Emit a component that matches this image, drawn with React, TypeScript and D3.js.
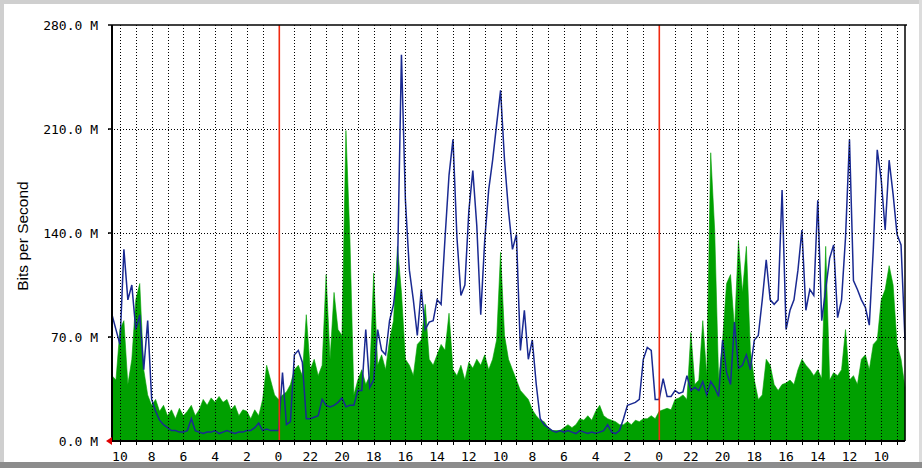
import React from 'react';
import * as d3 from 'd3';

// Incoming traffic (green area), Mbit/s, one value every 15 minutes from the left edge (newest) to the right edge
const inValues: number[] = [
  44, 41, 75, 81, 38, 55, 95, 106, 48, 31,
  24, 28, 20, 24, 17, 21, 15, 22, 17, 20,
  24, 17, 21, 28, 24, 29, 26, 30, 26, 28,
  21, 24, 17, 21, 20, 15, 21, 17, 28, 51,
  41, 31, 28, 31, 33, 38, 48, 51, 44, 85,
  48, 55, 44, 51, 112, 55, 100, 75, 71, 209,
  137, 31, 41, 48, 38, 44, 113, 51, 58, 48,
  68, 81, 131, 100, 55, 51, 44, 65, 68, 92,
  55, 51, 58, 65, 61, 86, 48, 44, 51, 41,
  53, 49, 55, 51, 58, 48, 55, 68, 127, 71,
  55, 48, 41, 34, 31, 28, 21, 17, 14, 13,
  9, 7, 7, 7, 9, 11, 9, 11, 15, 14,
  17, 14, 20, 24, 17, 15, 14, 13, 11, 11,
  13, 11, 14, 13, 15, 15, 17, 15, 20, 21,
  22, 21, 28, 29, 31, 28, 73, 38, 41, 81,
  44, 194, 142, 41, 68, 106, 112, 75, 135, 100,
  131, 61, 41, 28, 31, 55, 51, 38, 34, 38,
  39, 41, 38, 48, 55, 51, 48, 44, 48, 42,
  131, 41, 46, 44, 48, 75, 41, 44, 38, 55,
  58, 48, 65, 68, 95, 102, 118, 105, 65, 55,
  36,
];

// Outgoing traffic (blue line), Mbit/s, same sampling
const outValues: number[] = [
  85, 75, 65, 129, 95, 105, 75, 85, 48, 81,
  28, 20, 14, 11, 9, 7, 7, 6, 6, 7,
  15, 7, 6, 5, 6, 6, 7, 5, 6, 7,
  6, 5, 6, 6, 7, 7, 9, 12, 7, 8,
  7, 7, 7, 46, 11, 13, 58, 61, 53, 15,
  15, 16, 17, 28, 24, 23, 24, 26, 29, 23,
  24, 24, 34, 34, 75, 36, 41, 75, 61, 58,
  81, 92, 115, 260, 162, 115, 95, 71, 102, 75,
  80, 81, 95, 92, 137, 179, 203, 137, 98, 105,
  155, 182, 145, 85, 135, 169, 189, 213, 236, 189,
  155, 129, 139, 61, 88, 55, 68, 38, 15, 11,
  9, 7, 6, 7, 6, 7, 6, 5, 7, 6,
  5, 6, 5, 6, 7, 11, 6, 5, 7, 15,
  24, 25, 26, 28, 55, 63, 61, 28, 28, 42,
  30, 30, 34, 32, 33, 44, 34, 36, 34, 40,
  31, 40, 36, 30, 68, 46, 38, 80, 49, 51,
  58, 48, 68, 71, 95, 122, 95, 92, 95, 169,
  75, 88, 95, 115, 142, 88, 102, 98, 162, 81,
  102, 123, 132, 83, 95, 137, 203, 108, 102, 95,
  90, 78, 129, 196, 176, 142, 189, 166, 139, 132,
  68,
];

const stepHours = 0.25;
const totalHours = 50;
const yTickValues = [0, 70, 140, 210, 280];
const yTickLabels = ['0.0 M', '70.0 M', '140.0 M', '210.0 M', '280.0 M'];
// hour gridlines, in hours from the left edge
const hourGrid = d3.range(0.5, 50, 1);
const midnights = [10.5, 34.5];
const xLabelPositions = d3.range(0.5, 49, 2);
const xLabels = ['10', '8', '6', '4', '2', '0', '22', '20', '18', '16', '14', '12', '10', '8', '6', '4', '2', '0', '22', '20', '18', '16', '14', '12', '10'];
const yTitle = 'Bits per Second';

const W = 922;
const H = 468;
const left = 112;
const right = 905;
const top = 25;
const bottom = 441;

export default function App() {
  const x = d3.scaleLinear().domain([0, totalHours]).range([left, right]);
  const y = d3.scaleLinear().domain([0, 280]).range([bottom, top]);

  const area = d3
    .area<number>()
    .x((_, i) => x(i * stepHours))
    .y0(y(0))
    .y1((d) => y(d))
    .curve(d3.curveLinear);
  const line = d3
    .line<number>()
    .x((_, i) => x(i * stepHours))
    .y((d) => y(d))
    .curve(d3.curveLinear);

  const mono = "'DejaVu Sans Mono', monospace";

  return (
    <svg width={W} height={H} style={{ position: 'absolute', left: 0, top: 0, background: '#fff' }}>
      {/* frame */}
      <rect x={0} y={0} width={W} height={H} fill="#fff" />
      <rect x={0} y={0} width={W} height={4} fill="#cfcfcf" />
      <rect x={0} y={0} width={4} height={H} fill="#cfcfcf" />
      <rect x={W - 3} y={0} width={3} height={H} fill="#dcdcdc" />
      <rect x={0} y={462} width={W} height={6} fill="#8c8c8c" />

      {/* data */}
      <path d={area(inValues) || ''} fill="#00a000" stroke="#00a000" strokeWidth={0.6} />
      <path d={line(outValues) || ''} fill="none" stroke="#1a2a92" strokeWidth={1.5} />

      {/* vertical hourly dotted grid */}
      {hourGrid.map((h) => {
        const isMid = midnights.includes(h);
        const xx = Math.round(x(h)) + 0.5;
        return (
          <g key={'g' + h}>
            {!isMid && (
              <line x1={xx} x2={xx} y1={top} y2={bottom} stroke="#000" strokeWidth={1} strokeDasharray="1,2" />
            )}
            <line x1={xx} x2={xx} y1={bottom} y2={bottom + 4} stroke="#000" strokeWidth={1} />
          </g>
        );
      })}
      {/* horizontal dotted grid */}
      {yTickValues.slice(1, 4).map((v) => {
        const yy = Math.round(y(v)) + 0.5;
        return (
          <line key={'h' + v} x1={left - 4} x2={right} y1={yy} y2={yy} stroke="#000" strokeWidth={1} strokeDasharray="1,2" />
        );
      })}
      {/* midnight lines */}
      {midnights.map((h) => {
        const xx = Math.round(x(h));
        return <rect key={'m' + h} x={xx - 0.5} y={top} width={1.6} height={bottom - top} fill="#f02a10" />;
      })}

      {/* axes / border */}
      <line x1={left} x2={right + 2} y1={top} y2={top} stroke="#000" strokeWidth={1.5} />
      <line x1={right} x2={right} y1={top} y2={bottom} stroke="#000" strokeWidth={1.5} />
      <line x1={left} x2={left} y1={top} y2={bottom} stroke="#000" strokeWidth={2} />
      <line x1={left} x2={right} y1={bottom} y2={bottom} stroke="#000" strokeWidth={2} />
      {yTickValues.map((v) => (
        <line key={'t' + v} x1={left - 4} x2={left} y1={y(v)} y2={y(v)} stroke="#000" strokeWidth={1.5} />
      ))}
      <path d={`M${left - 6},${bottom} L${left},${bottom - 4} L${left},${bottom + 4} Z`} fill="#e00000" />

      {/* y labels */}
      {yTickValues.map((v, i) => (
        <text key={'yl' + v} x={98} y={y(v) + 5} textAnchor="end" fontFamily={mono} fontSize={13} fill="#000">
          {yTickLabels[i]}
        </text>
      ))}
      {/* x labels */}
      {xLabelPositions.map((h, i) => (
        <text key={'xl' + h} x={x(h)} y={461} textAnchor="middle" fontFamily={mono} fontSize={13} fill="#000">
          {xLabels[i]}
        </text>
      ))}
      {/* y title */}
      <text
        transform={`translate(28,236) rotate(-90)`}
        textAnchor="middle"
        fontFamily="'Liberation Sans', Arial, sans-serif"
        fontSize={15.5}
        fill="#000"
      >
        {yTitle}
      </text>
    </svg>
  );
}
